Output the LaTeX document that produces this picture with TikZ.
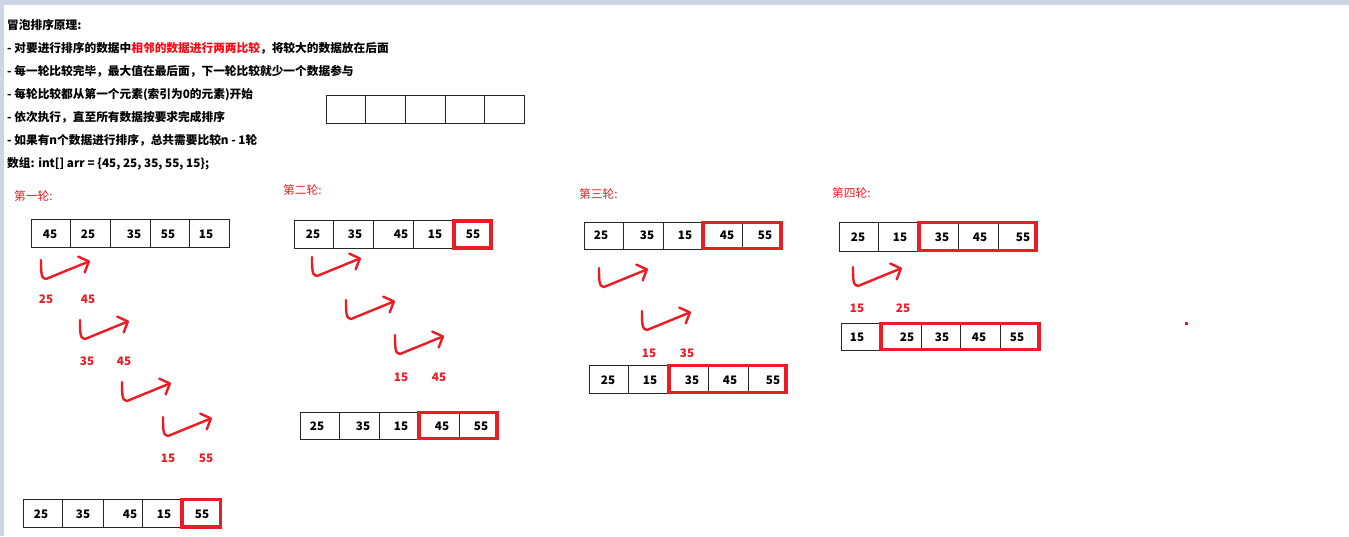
\documentclass[tikz,border=0pt]{standalone}
\usepackage{fontspec}
\setmainfont{Noto Sans CJK SC}
\usetikzlibrary{arrows.meta}
\definecolor{hred}{RGB}{237,28,36}
\definecolor{pred}{RGB}{250,10,20}
\definecolor{band}{RGB}{203,213,229}
\tikzset{
  cellline/.style={draw=black!85, line width=0.9pt},
  hl/.style={draw=hred, line width=3.2pt},
  num/.style={anchor=base, inner sep=0pt},
  lab/.style={num, text=hred},
  txtline/.style={anchor=base west, inner sep=0pt},
  roundlab/.style={anchor=base west, inner sep=0pt, text=hred, font=\fontsize{11.7}{14}\selectfont\mdseries},
  harr/.style={draw=hred, line width=2.4pt, line cap=round, line join=round,
    -{Straight Barb[length=8pt,width=17pt,line cap=round,line join=round]}},
  handarrow/.pic={\draw[harr] (0,0) .. controls (0,12) and (0,19) .. (5,19) -- (49,1);}
}
\newcommand\arrbox[3]{\foreach \a/\b in {#1} \draw[cellline] (\a,#2) rectangle (\b,#3);}
\begin{document}
\begin{tikzpicture}[x=1pt,y=-1pt,font=\fontsize{11.7}{14}\selectfont\bfseries]
\useasboundingbox (0,0) rectangle (1349,536);
\fill[white] (0,0) rectangle (1349,536);
\fill[band] (0,0) rectangle (1349,5);
\fill[band] (0,0) rectangle (4,536);

% intro text
\node[txtline] (t1) at (7,29.5) {冒泡排序原理:};
\node[txtline] (t2) at (7,52.5) {- 对要进行排序的数据中\textcolor{pred}{相邻的数据进行两两比较}，将较大的数据放在后面};
\node[txtline] (t3) at (7,75.5) {- 每一轮比较完毕，最大值在最后面，下一轮比较就少一个数据参与};
\node[txtline] (t4) at (7,98.5) {- 每轮比较都从第一个元素(索引为0的元素)开始};
\node[txtline] (t5) at (7,121.5) {- 依次执行，直至所有数据按要求完成排序};
\node[txtline] (t6) at (7,144.5) {- 如果有n个数据进行排序，总共需要比较n - 1轮};
\node[txtline] (t7) at (7,167.5) {数组: int[] arr = \{45, 25, 35, 55, 15\};};

% empty array
\arrbox{326/365,365/405,405/445,445/484,484/524}{95}{123}

% round labels
\node[roundlab] (l1) at (14,200.5) {第一轮:};
\node[roundlab] (l2) at (283,194.5) {第二轮:};
\node[roundlab] (l3) at (579,198.5) {第三轮:};
\node[roundlab] (l4) at (832,197.5) {第四轮:};

% ---- round 1
\arrbox{31/70,70/110,110/150,150/189,189/229}{219}{247}
\foreach \xx/\t in {50/45,88/25,134/35,168/55,206/15} \node[num] (ra\xx) at (\xx,238.2) {\t};
\pic at (41,260) {handarrow};
\pic at (80,320) {handarrow};
\pic at (122,382) {handarrow};
\pic at (163,417) {handarrow};
\node[lab] (la1) at (46,303.2) {25};
\node[lab] (la2) at (88,303.2) {45};
\node[lab] (la3) at (87,365.2) {35};
\node[lab] (la4) at (124,365.2) {45};
\node[lab] (la5) at (168,462.2) {15};
\node[lab] (la6) at (206,462.2) {55};
\arrbox{23/62,62/103,103/142,142/182,182/221}{499}{527}
\draw[hl] (182,499.5) rectangle (220.5,527);
\foreach \xx/\t in {41/25,83/35,130/45,164/15,202/55} \node[num] (rb\xx) at (\xx,518.2) {\t};

% ---- round 2
\arrbox{294/333,333/373,373/413,413/453,453/492}{220}{248}
\draw[hl] (454,221) rectangle (491,248);
\foreach \xx/\t in {313/25,355/35,401/45,435/15,473/55} \node[num] (rc\xx) at (\xx,238.2) {\t};
\pic at (312,257) {handarrow};
\pic at (346,300) {handarrow};
\pic at (395,335) {handarrow};
\node[lab] (lb1) at (401,381.2) {15};
\node[lab] (lb2) at (439,381.2) {45};
\arrbox{300/339,339/379,379/418,418/459,459/498}{412}{439}
\draw[hl] (419,412.5) rectangle (497,438.5);
\foreach \xx/\t in {317/25,363/35,401/15,442/45,481/55} \node[num] (rd\xx) at (\xx,430.2) {\t};

% ---- round 3
\arrbox{584/623,623/663,663/702,702/742,742/782}{222}{249}
\draw[hl] (703,222.5) rectangle (781,248.5);
\foreach \xx/\t in {601/25,647/35,685/15,727/45,765/55} \node[num] (re\xx) at (\xx,239.2) {\t};
\pic at (599,268) {handarrow};
\pic at (642,311) {handarrow};
\node[lab] (lc1) at (649,357.2) {15};
\node[lab] (lc2) at (687,357.2) {35};
\arrbox{589/628,628/668,668/708,708/748,748/787}{365}{393}
\draw[hl] (669,365.5) rectangle (786,392.5);
\foreach \xx/\t in {608/25,650/15,692/35,730/45,773/55} \node[num] (rf\xx) at (\xx,384.2) {\t};

% ---- round 4
\arrbox{839/878,878/918,918/958,958/998,998/1037}{222}{251}
\draw[hl] (919,222.5) rectangle (1036,250.5);
\foreach \xx/\t in {858/25,900/15,942/35,980/45,1023/55} \node[num] (rg\xx) at (\xx,241.2) {\t};
\pic at (853,267) {handarrow};
\node[lab] (ld1) at (857,312.2) {15};
\node[lab] (ld2) at (903,312.2) {25};
\arrbox{841/880,880/921,921/960,960/1000,1000/1040}{323}{350}
\draw[hl] (881,323.5) rectangle (1039,349.5);
\foreach \xx/\t in {857/15,907/25,942/35,979/45,1017/55} \node[num] (rh\xx) at (\xx,341.2) {\t};

% stray red dot
\fill[hred] (1185,322) rectangle (1188,325);
\end{tikzpicture}
\end{document}
